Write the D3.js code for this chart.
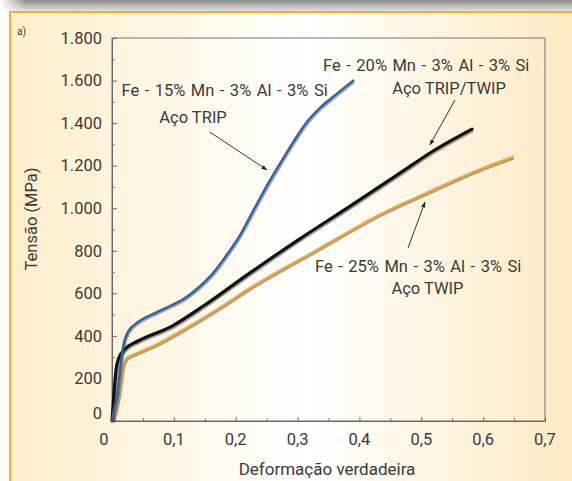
<!DOCTYPE html>
<html><head><meta charset="utf-8">
<script src="https://cdn.jsdelivr.net/npm/d3@7/dist/d3.min.js"></script>
<style>
html,body{margin:0;padding:0;background:#fff}
svg{display:block}
text{font-family:Roboto,"Open Sans",sans-serif;fill:#3a3a3a}
</style>
</head><body>
<svg id="c" width="572" height="481"></svg>
<script>
// ---- data ----
const xTicks = [0, 0.1, 0.2, 0.3, 0.4, 0.5, 0.6, 0.7];
const xTickLabels = ["0", "0,1", "0,2", "0,3", "0,4", "0,5", "0,6", "0,7"];
const yTicks = [0, 200, 400, 600, 800, 1000, 1200, 1400, 1600, 1800];
const yTickLabels = ["0", "200", "400", "600", "800", "1.000", "1.200", "1.400", "1.600", "1.800"];

// Fe-15%Mn (TRIP)
const tripStrain = [0, 0.003, 0.008, 0.013, 0.018, 0.026, 0.042, 0.07, 0.097, 0.118, 0.139, 0.162, 0.184, 0.207, 0.228, 0.251, 0.272, 0.293, 0.315, 0.336, 0.357, 0.39];
const tripStress = [0, 50, 115, 240, 350, 420, 465, 508, 545, 578, 625, 691, 775, 874, 987, 1109, 1212, 1311, 1405, 1471, 1523, 1600];
// Fe-20%Mn (TRIP/TWIP)
const tripTwipStrain = [0, 0.003, 0.0065, 0.011, 0.021, 0.042, 0.097, 0.15, 0.223, 0.303, 0.385, 0.466, 0.519, 0.582];
const tripTwipStress = [0, 120, 240, 296, 338, 376, 446, 545, 696, 855, 1010, 1166, 1269, 1372];
// Fe-25%Mn (TWIP)
const twipStrain = [0.002, 0.0065, 0.0097, 0.013, 0.018, 0.024, 0.037, 0.07, 0.123, 0.178, 0.223, 0.331, 0.438, 0.519, 0.6, 0.648];
const twipStress = [0, 52, 99, 155, 258, 296, 315, 357, 442, 540, 625, 804, 978, 1086, 1189, 1241];

const seriesNames = ["Fe - 15% Mn - 3% Al - 3% Si", "Fe - 20% Mn - 3% Al - 3% Si", "Fe - 25% Mn - 3% Al - 3% Si"];
const steelNames = ["Aço TRIP", "Aço TRIP/TWIP", "Aço TWIP"];
// annotation anchors in data units [strain, stress]
const nameAnchors = [[0.182, 1556], [0.508, 1673], [0.495, 728]];
const steelAnchors = [[0.131, 1429], [0.545, 1565], [0.510, 625]];
const arrowTails = [[0.158, 1358], [0.5545, 1509], [0.4785, 813]];
const arrowTips = [[0.2506, 1180], [0.514, 1297], [0.506, 1029]];

const xTitle = "Deformação verdadeira";
const yTitle = "Tensão (MPa)";
const panelLabel = "a)";

// ---- drawing ----
const W = 572, H = 481;
const svg = d3.select("#c");
const defs = svg.append("defs");

const bg = defs.append("linearGradient").attr("id", "bg").attr("x1", 0).attr("x2", 1).attr("y1", 0).attr("y2", 0);
bg.append("stop").attr("offset", "0").attr("stop-color", "#fdeecb");
bg.append("stop").attr("offset", "0.52").attr("stop-color", "#ffffff");
bg.append("stop").attr("offset", "1").attr("stop-color", "#fde9c0");

const topSh = defs.append("linearGradient").attr("id", "topsh").attr("x1", 0).attr("x2", 0).attr("y1", 0).attr("y2", 1);
topSh.append("stop").attr("offset", "0").attr("stop-color", "#8a8a8a");
topSh.append("stop").attr("offset", "1").attr("stop-color", "#e8e8e8");

const leftFade = defs.append("linearGradient").attr("id", "leftfade").attr("x1", 0).attr("x2", 1).attr("y1", 0).attr("y2", 0);
leftFade.append("stop").attr("offset", "0").attr("stop-color", "#ffffff").attr("stop-opacity", 1);
leftFade.append("stop").attr("offset", "1").attr("stop-color", "#ffffff").attr("stop-opacity", 0);

defs.append("marker").attr("id", "ah").attr("viewBox", "0 0 10 10").attr("refX", 9).attr("refY", 5)
  .attr("markerWidth", 6).attr("markerHeight", 6).attr("orient", "auto-start-reverse")
  .attr("markerUnits", "userSpaceOnUse")
  .append("path").attr("d", "M0,1.5 L10,5 L0,8.5 Z").attr("fill", "#222");

svg.append("rect").attr("width", W).attr("height", H).attr("fill", "#fff");
svg.append("rect").attr("x", 0).attr("y", 0).attr("width", W).attr("height", 12).attr("fill", "url(#topsh)");
svg.append("rect").attr("x", 0).attr("y", 0).attr("width", 26).attr("height", 14).attr("fill", "url(#leftfade)");
svg.append("rect").attr("x", 10).attr("y", 12).attr("width", W).attr("height", H).attr("fill", "url(#bg)")
  .attr("stroke", "#f4b21f").attr("stroke-width", 2);

const x = d3.scaleLinear().domain([0, 0.7]).range([112, 545]);
const y = d3.scaleLinear().domain([0, 1800]).range([421, 38]);

// frame
svg.append("rect").attr("x", x(0)).attr("y", y(1800)).attr("width", x(0.7) - x(0)).attr("height", y(0) - y(1800))
  .attr("fill", "none").attr("stroke", "#8a8a8a").attr("stroke-width", 1.2);

// ticks (inward)
const xMinor = d3.range(0.05, 0.7, 0.1);
const yMinor = d3.range(100, 1800, 200);
svg.append("g").attr("transform", `translate(0,${y(0)})`).call(d3.axisTop(x).tickValues(xTicks).tickSize(4).tickFormat(""))
  .call(g => { g.select(".domain").attr("stroke", "#666"); g.selectAll("line").attr("stroke", "#666"); });
svg.append("g").attr("transform", `translate(0,${y(0)})`).call(d3.axisTop(x).tickValues(xMinor).tickSize(3).tickFormat(""))
  .call(g => { g.select(".domain").remove(); g.selectAll("line").attr("stroke", "#777"); });
svg.append("g").attr("transform", `translate(${x(0)},0)`).call(d3.axisRight(y).tickValues(yTicks).tickSize(5).tickFormat(""))
  .call(g => { g.select(".domain").attr("stroke", "#666"); g.selectAll("line").attr("stroke", "#666"); });
svg.append("g").attr("transform", `translate(${x(0)},0)`).call(d3.axisRight(y).tickValues(yMinor).tickSize(3).tickFormat(""))
  .call(g => { g.select(".domain").remove(); g.selectAll("line").attr("stroke", "#777"); });

// tick labels
svg.append("g").selectAll("text").data(xTicks).join("text")
  .attr("x", (d, i) => x(d) - (i === 0 ? 8 : 0)).attr("y", 445)
  .attr("text-anchor", "middle").attr("font-size", 16.5).text((d, i) => xTickLabels[i]);
svg.append("g").selectAll("text").data(yTicks).join("text")
  .attr("x", 102).attr("y", (d, i) => y(d) - (i === 0 ? 8 : 0)).attr("dy", "0.35em")
  .attr("text-anchor", "end").attr("font-size", 16.5).text((d, i) => yTickLabels[i]);

// titles
svg.append("text").attr("x", 327).attr("y", 475).attr("text-anchor", "middle").attr("font-size", 17).text(xTitle);
svg.append("text").attr("transform", `translate(37,219) rotate(-90)`).attr("text-anchor", "middle").attr("font-size", 16.5).text(yTitle);
svg.append("text").attr("x", 17).attr("y", 35).attr("font-size", 10).text(panelLabel);

// curves
const line = d3.line().x(d => x(d[0])).y(d => y(d[1])).curve(d3.curveMonotoneX);
const series = [
  { pts: d3.zip(twipStrain, twipStress), color: "#f0a431", w: 2.2 },
  { pts: d3.zip(tripTwipStrain, tripTwipStress), color: "#111111", w: 3.2 },
  { pts: d3.zip(tripStrain, tripStress), color: "#2f63a6", w: 2.4 }
];
series.forEach(s => {
  svg.append("path").attr("d", line(s.pts)).attr("fill", "none").attr("stroke", "#333").attr("stroke-opacity", 0.45)
    .attr("stroke-width", s.w + 0.6).attr("transform", "translate(0.8,1.2)").attr("stroke-linejoin", "round");
  svg.append("path").attr("d", line(s.pts)).attr("fill", "none").attr("stroke", s.color)
    .attr("stroke-width", s.w).attr("stroke-linejoin", "round").attr("stroke-linecap", "round");
});

// annotations
svg.append("g").selectAll("text").data(seriesNames).join("text")
  .attr("x", (d, i) => x(nameAnchors[i][0])).attr("y", (d, i) => y(nameAnchors[i][1])).attr("dy", "0.35em")
  .attr("text-anchor", "middle").attr("font-size", 16.5).attr("word-spacing", "1.4px").text(d => d);
svg.append("g").selectAll("text").data(steelNames).join("text")
  .attr("x", (d, i) => x(steelAnchors[i][0])).attr("y", (d, i) => y(steelAnchors[i][1])).attr("dy", "0.35em")
  .attr("text-anchor", "middle").attr("font-size", 16.5).text(d => d);
svg.append("g").selectAll("line").data(arrowTails).join("line")
  .attr("x1", d => x(d[0])).attr("y1", d => y(d[1]))
  .attr("x2", (d, i) => x(arrowTips[i][0])).attr("y2", (d, i) => y(arrowTips[i][1]))
  .attr("stroke", "#333").attr("stroke-width", 1).attr("marker-end", "url(#ah)");
</script>
</body></html>
